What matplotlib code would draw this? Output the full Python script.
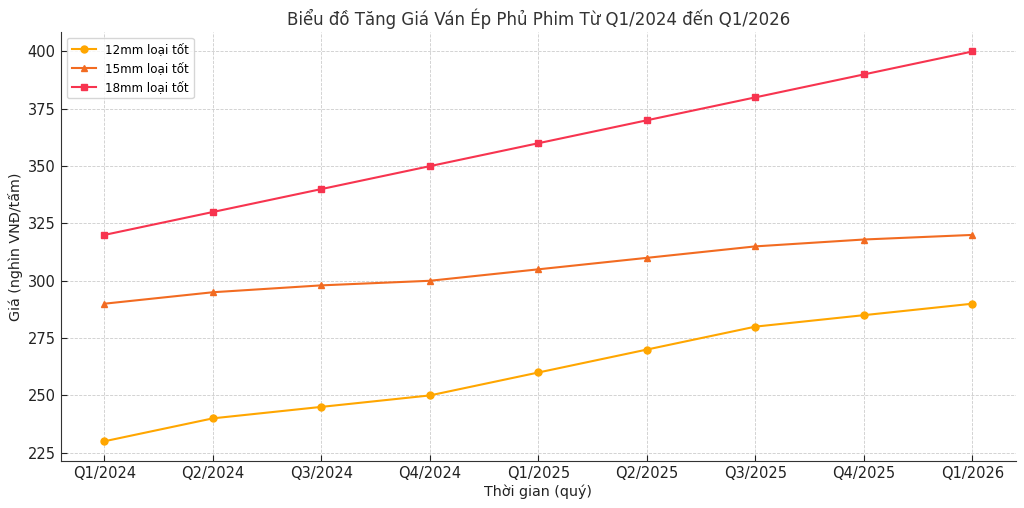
import matplotlib
matplotlib.use("Agg")
import matplotlib.pyplot as plt

quarters = ["Q1/2024", "Q2/2024", "Q3/2024", "Q4/2024", "Q1/2025",
            "Q2/2025", "Q3/2025", "Q4/2025", "Q1/2026"]
p12 = [230, 240, 245, 250, 260, 270, 280, 285, 290]
p15 = [290, 295, 298, 300, 305, 310, 315, 318, 320]
p18 = [320, 330, 340, 350, 360, 370, 380, 390, 400]

fig, ax = plt.subplots(figsize=(10.24, 5.08), dpi=100)
fig.subplots_adjust(left=0.0596, right=0.992, top=0.937, bottom=0.093)

ax.plot(quarters, p12, marker="o", markersize=5, color="#FFA600", linewidth=1.5, label="12mm loại tốt")
ax.plot(quarters, p15, marker="^", markersize=5, color="#F26B21", linewidth=1.5, label="15mm loại tốt")
ax.plot(quarters, p18, marker="s", markersize=5, color="#F7344F", linewidth=1.5, label="18mm loại tốt")

ax.set_title("Biểu đồ Tăng Giá Ván Ép Phủ Phim Từ Q1/2024 đến Q1/2026", fontsize=12, color="#333333", pad=5)
ax.set_xlabel("Thời gian (quý)", fontsize=10.3, color="#222222", labelpad=2)
ax.set_ylabel("Giá (nghìn VNĐ/tấm)", fontsize=10.3, color="#222222", labelpad=3)
ax.grid(True, linestyle="--", linewidth=0.6, color="#cccccc")
ax.spines["top"].set_visible(False)
ax.spines["right"].set_visible(False)
for s in ("left", "bottom"):
    ax.spines[s].set_color("#333333")
ax.tick_params(labelsize=10.5, colors="#222222", direction="in", length=4, pad=4)
ax.set_yticks([225, 250, 275, 300, 325, 350, 375, 400])
ax.set_ylim(221.5, 408.5)
ax.legend(loc="upper left", fontsize=8.6)

fig.savefig("out.png", dpi=100)
